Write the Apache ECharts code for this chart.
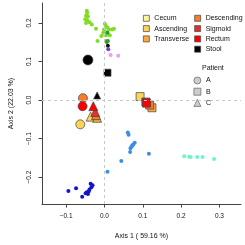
<!DOCTYPE html>
<html><head><meta charset="utf-8">
<script src="https://cdn.jsdelivr.net/npm/echarts@6/dist/echarts.min.js"></script>
<style>html,body{margin:0;padding:0;background:#fff}#c{width:245px;height:245px}</style>
</head><body><div id="c"></div>
<script>
// ---- data ----
const sites = ['Cecum', 'Ascending', 'Transverse', 'Descending', 'Sigmoid', 'Rectum', 'Stool'];
const patients = ['A', 'B', 'C'];
const xTicks = [-0.1, 0.0, 0.1, 0.2, 0.3];
const yTicks = [-0.2, -0.1, 0.0, 0.1, 0.2];
const xTitle = 'Axis 1 ( 59.16 %)';
const yTitle = 'Axis 2 (22.03 %)';

// large markers: [axis1, axis2, patient]
const cecumPts = [];
const ascendingPts = [[-0.063, -0.063, 'A'], [0.093, 0.009, 'B'], [-0.036, -0.043, 'C']];
const transversePts = [[0.124, -0.020, 'B'], [-0.019, -0.046, 'C']];
const descendingPts = [[-0.056, 0.005, 'A'], [0.118, -0.013, 'B'], [-0.022, -0.039, 'C']];
const sigmoidPts = [[0.108, -0.005, 'B'], [-0.024, -0.031, 'C']];
const rectumPts = [[-0.057, -0.016, 'A'], [0.110, -0.008, 'B'], [-0.029, -0.016, 'C']];
const stoolPts = [[-0.043, 0.104, 'A'], [0.008, 0.071, 'B'], [-0.019, 0.012, 'C']];

// small points
const greenPts = [[-0.046, 0.232], [-0.045, 0.226], [-0.048, 0.219], [-0.043, 0.217], [-0.050, 0.210],
  [-0.045, 0.207], [-0.048, 0.200], [-0.039, 0.202], [-0.033, 0.196], [-0.022, 0.185], [0.001, 0.198],
  [0.004, 0.192], [0.008, 0.188], [-0.001, 0.183], [0.012, 0.183], [0.020, 0.183], [0.006, 0.176],
  [-0.003, 0.175], [0.009, 0.170], [0.003, 0.168], [-0.008, 0.166], [-0.018, 0.153], [0.004, 0.153],
  [0.014, 0.168], [0.025, 0.185]];
const darkGreenPts = [[0.008, 0.175], [0.006, 0.151], [0.009, 0.153]];
const blackSmallPts = [[0.009, 0.141]];
const purplePts = [[0.010, 0.132]];
const pinkPts = [[0.016, 0.117], [0.036, 0.115]];
const bluePts = [[-0.094, -0.236], [-0.074, -0.229], [-0.058, -0.251], [-0.049, -0.242], [-0.046, -0.239],
  [-0.043, -0.244], [-0.041, -0.237], [-0.039, -0.232], [-0.036, -0.217], [-0.031, -0.221], [-0.034, -0.226]];
const lightBluePts = [[0.061, -0.084], [0.063, -0.090], [0.079, -0.111], [0.075, -0.115], [0.071, -0.120],
  [0.068, -0.125], [0.067, -0.135], [0.073, -0.118], [0.116, -0.139], [0.044, -0.158], [0.008, -0.186]];
const cyanPts = [[0.208, -0.146], [0.221, -0.147], [0.225, -0.148], [0.242, -0.148], [0.256, -0.148], [0.286, -0.153]];

// ---- styles ----
const siteColors = ['#fdf49c', '#f9d35a', '#fca83a', '#f57d2e', '#e4302a', '#ff0000', '#000000'];
const shapeOf = { A: 'circle', B: 'rect', C: 'triangle' };
const sizeOf = { A: 9, B: 8, C: 9 };
const sitePts = [cecumPts, ascendingPts, transversePts, descendingPts, sigmoidPts, rectumPts, stoolPts];

const FONT = 'Liberation Sans, Arial, sans-serif';
const fmt = v => (v < 0 ? '\u2212' : '') + Math.abs(v).toFixed(1);

function small(name, data, color) {
  return { name, type: 'scatter', data, symbol: 'circle', symbolSize: 4, silent: true,
    itemStyle: { color, opacity: 1 }, z: 2 };
}

const series = [
  { name: 'ref', type: 'scatter', data: [], silent: true,
    markLine: { silent: true, symbol: 'none', label: { show: false },
      lineStyle: { color: '#c8c8c8', type: [3, 3], width: 1 },
      data: [{ xAxis: 0 }, { yAxis: 0 }] }, z: 1 },
  small('g', greenPts, '#80dd22'),
  small('dg', darkGreenPts, '#2f9a2f'),
  small('bk', blackSmallPts, '#111111'),
  small('pu', purplePts, '#7044dd'),
  small('pk', pinkPts, '#ee9cee'),
  small('b', bluePts, '#1414cc'),
  small('lb', lightBluePts, '#3d8de6'),
  small('cy', cyanPts, '#6cf5cf'),
];
sites.forEach((s, i) => {
  series.push({
    name: s, type: 'scatter', silent: true, z: 3,
    data: sitePts[i].map(p => ({ value: [p[0], p[1]], symbol: shapeOf[p[2]],
      symbolSize: s === 'Stool' ? (p[2] === 'A' ? 10 : 7) : sizeOf[p[2]] })),
    itemStyle: { color: siteColors[i], borderColor: '#444', borderWidth: 0.7, opacity: 1 }
  });
});
patients.forEach(p => {
  series.push({ name: p, type: 'scatter', data: [], symbol: shapeOf[p],
    itemStyle: { color: '#c0c0c0', borderColor: '#555', borderWidth: 0.8 } });
});

const legendBase = {
  orient: 'vertical', itemWidth: 6, itemHeight: 6, itemGap: 2.3,
  icon: 'rect', selectedMode: false,
  itemStyle: { borderColor: '#444', borderWidth: 0.7 },
  textStyle: { fontSize: 7, fontFamily: FONT, color: '#111', lineHeight: 8, padding: 0 }
};

const option = {
  animation: false,
  backgroundColor: '#fff',
  title: { text: 'Patient', left: 197, top: 60,
    textStyle: { fontSize: 7, fontWeight: 'normal', fontFamily: FONT, color: '#111' } },
  legend: [
    Object.assign({}, legendBase, { left: 138, top: 9.3, data: sites.slice(0, 3) }),
    Object.assign({}, legendBase, { left: 189.3, top: 9.3, data: sites.slice(3) }),
    Object.assign({}, legendBase, { left: 188.5, top: 71.5, itemWidth: 7, itemHeight: 7, itemGap: 3.2,
      itemStyle: { borderColor: '#555', borderWidth: 0.8 },
      data: patients.map(p => ({ name: p, icon: shapeOf[p] })) })
  ],
  grid: { left: 36, right: 4, top: 3, bottom: 37, containLabel: false },
  xAxis: {
    type: 'value', min: -0.1628, max: 0.3562,
    name: xTitle, nameLocation: 'middle', nameGap: 29,
    nameTextStyle: { fontSize: 7, fontFamily: FONT, color: '#111' },
    axisLine: { show: true, onZero: false, lineStyle: { color: '#444', width: 1 } },
    axisTick: { show: true, length: 3.5, customValues: xTicks, lineStyle: { color: '#444' } },
    axisLabel: { customValues: xTicks, formatter: fmt, fontSize: 6.5, fontFamily: FONT, color: '#111', margin: 9 },
    splitLine: { show: false }
  },
  yAxis: {
    type: 'value', min: -0.2697, max: 0.2519,
    name: yTitle, nameLocation: 'middle', nameGap: 27,
    nameTextStyle: { fontSize: 7, fontFamily: FONT, color: '#111' },
    axisLine: { show: true, onZero: false, lineStyle: { color: '#444', width: 1 } },
    axisTick: { show: true, length: 3.5, customValues: yTicks, lineStyle: { color: '#444' } },
    axisLabel: { customValues: yTicks, formatter: fmt, rotate: 90, fontSize: 6.5, fontFamily: FONT, color: '#111', margin: 9 },
    splitLine: { show: false }
  },
  series
};
const chart = echarts.init(document.getElementById('c'), null, { renderer: 'canvas' });
chart.setOption(option);
</script></body></html>
